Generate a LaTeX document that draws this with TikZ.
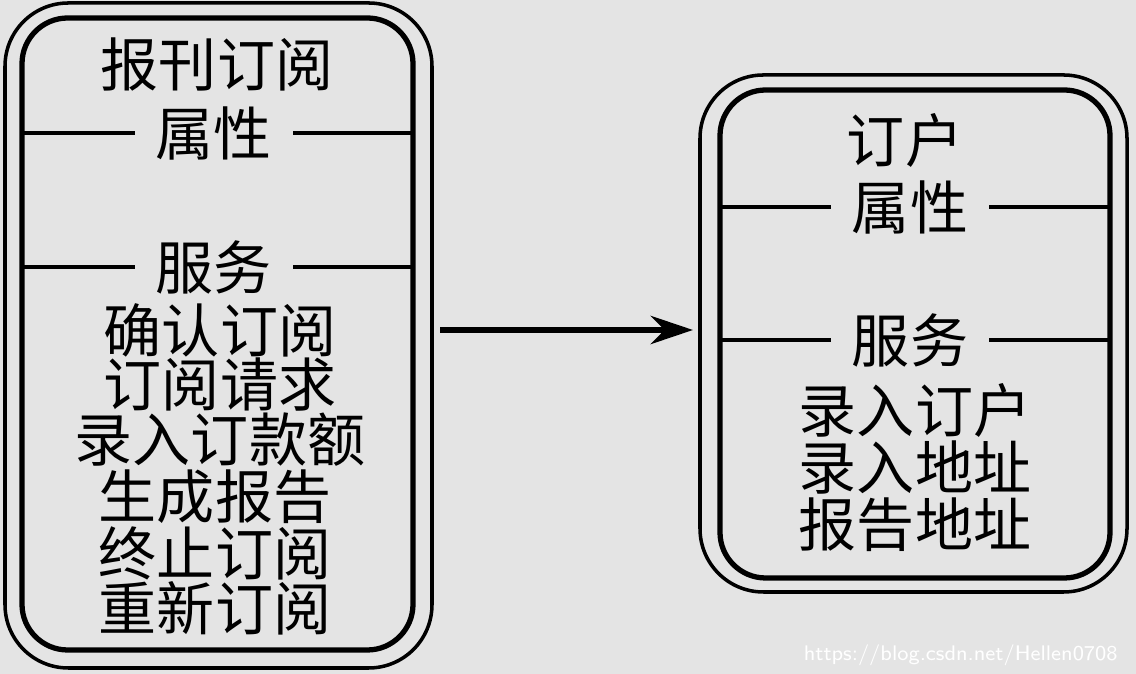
\documentclass[tikz,border=0pt]{standalone}
\usepackage{fontspec}
\newfontfamily\cjk{Noto Sans CJK SC}
\definecolor{bg}{HTML}{E4E4E4}
\usetikzlibrary{arrows.meta}
\begin{document}
\begin{tikzpicture}[x=0.01cm, y=-0.01cm,
outerbox/.style={draw=black, line width=1pt, rounded corners=18pt},
innerbox/.style={draw=black, line width=1.5pt, rounded corners=13pt},
sep/.style={line width=1.2pt},
word/.style={font=\cjk\fontsize{16.5}{16.5}\selectfont, inner sep=1pt},
gap/.style={word, fill=bg, inner xsep=6pt},
]
\useasboundingbox[fill=bg] (0,0) rectangle (1136,674);
% left class
\draw[outerbox] (5,3) rectangle (432,668);
\draw[innerbox] (22,18) rectangle (413,650);
\draw[sep] (22,133) -- (413,133);
\draw[sep] (22,267) -- (413,267);
\node[word] (lname) at (217,65) {报刊订阅};
\node[gap] (lattr) at (214,133) {属性};
\node[gap] (lserv) at (214,267) {服务};
\node[word] (l1) at (220,330) {确认订阅};
\node[word] (l2) at (220,385) {订阅请求};
\node[word] (l3) at (220,440) {录入订款额};
\node[word] (l4) at (215,497) {生成报告};
\node[word] (l5) at (215,553) {终止订阅};
\node[word] (l6) at (215,608) {重新订阅};
% right class
\draw[outerbox] (700,75) rectangle (1127,592);
\draw[innerbox] (720,90) rectangle (1110,578);
\draw[sep] (720,207) -- (1110,207);
\draw[sep] (720,340) -- (1110,340);
\node[word] (rname) at (905,140) {订户};
\node[gap] (rattr) at (910,207) {属性};
\node[gap] (rserv) at (910,340) {服务};
\node[word] (r1) at (915,410) {录入订户};
\node[word] (r2) at (915,468) {录入地址};
\node[word] (r3) at (915,525) {报告地址};
% link
\coordinate (from) at (440,330);
\coordinate (to) at (693,330);
\draw[line width=1.8pt, -{Stealth[length=12pt,width=8pt]}] (from) -- (to);
\node[font=\sffamily\fontsize{6}{6}\selectfont, text=white, anchor=east] (mark) at (1130,655) {https://blog.csdn.net/Hellen0708};
\end{tikzpicture}
\end{document}
